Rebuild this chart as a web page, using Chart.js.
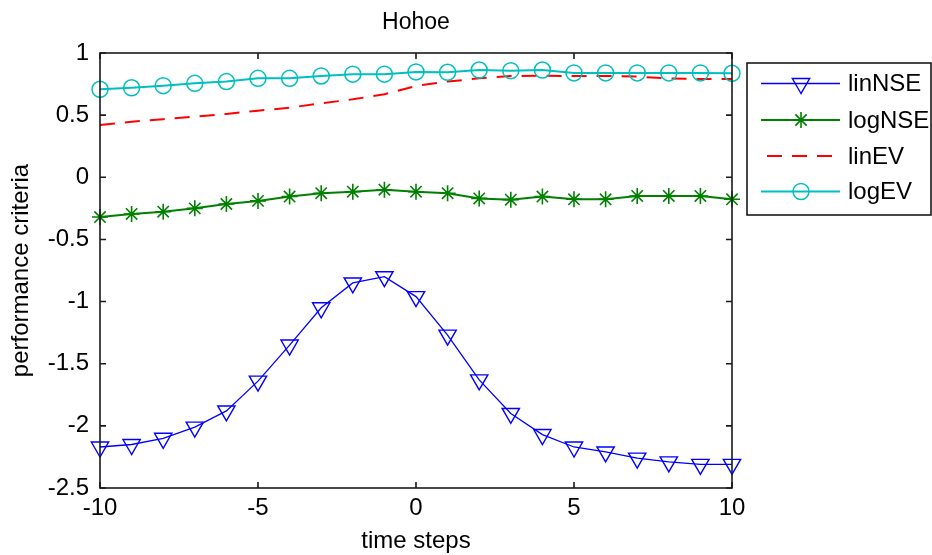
<!DOCTYPE html>
<html><head><meta charset="utf-8">
<script src="https://cdn.jsdelivr.net/npm/chart.js@4/dist/chart.umd.min.js"></script>
<style>html,body{margin:0;padding:0;background:#fff}#wrap{width:932px;height:555px}</style>
</head><body><div id="wrap"><canvas id="c" width="932" height="555"></canvas></div>
<script>
const chartTitle = 'Hohoe';
const xAxisTitle = 'time steps';
const yAxisTitle = 'performance criteria';
const timeSteps = [-10,-9,-8,-7,-6,-5,-4,-3,-2,-1,0,1,2,3,4,5,6,7,8,9,10];
const linNSE = [-2.17,-2.15,-2.10,-2.01,-1.88,-1.64,-1.35,-1.05,-0.85,-0.80,-0.96,-1.27,-1.63,-1.90,-2.07,-2.17,-2.21,-2.26,-2.29,-2.31,-2.31];
const logNSE = [-0.32,-0.295,-0.277,-0.25,-0.215,-0.19,-0.155,-0.128,-0.116,-0.10,-0.116,-0.128,-0.17,-0.18,-0.155,-0.177,-0.177,-0.15,-0.15,-0.15,-0.177];
const linEV = [0.42,0.447,0.467,0.488,0.51,0.536,0.56,0.595,0.627,0.668,0.735,0.77,0.796,0.815,0.817,0.815,0.815,0.81,0.796,0.79,0.79];
const logEV = [0.708,0.72,0.737,0.756,0.77,0.796,0.796,0.815,0.83,0.83,0.848,0.845,0.863,0.858,0.863,0.84,0.84,0.84,0.84,0.84,0.837];
const seriesNames = ['linNSE','logNSE','linEV','logEV'];
const xTickValues = [-10,-5,0,5,10];
const xTickLabels = ['-10','-5','0','5','10'];
const yTickValues = [-2.5,-2,-1.5,-1,-0.5,0,0.5,1];
const yTickLabels = ['-2.5','-2','-1.5','-1','-0.5','0','0.5','1'];

const FONT = '"Liberation Sans", Arial, Helvetica, sans-serif';
const pts = arr => timeSteps.map((x, i) => ({x: x, y: arr[i]}));

const styles = [
  {color:'#0000ff', width:1.3, dash:[], marker:'triangle', rot:180, r:10, bw:1.4},
  {color:'#008000', width:2, dash:[], marker:'star', rot:0, r:8, bw:1.6},
  {color:'#ff0000', width:2, dash:[15,10], marker:false, rot:0, r:0, bw:0},
  {color:'#00bfbf', width:2, dash:[], marker:'circle', rot:0, r:8, bw:1.5}
];
const seriesData = [linNSE, logNSE, linEV, logEV];

const datasets = seriesData.map((arr, i) => {
  const s = styles[i];
  return {
    label: seriesNames[i],
    data: pts(arr),
    borderColor: s.color,
    backgroundColor: 'rgba(0,0,0,0)',
    borderWidth: s.width,
    borderDash: s.dash,
    pointStyle: s.marker || 'circle',
    pointRotation: s.rot,
    pointRadius: s.marker ? s.r : 0,
    pointHoverRadius: s.marker ? s.r : 0,
    pointBorderColor: s.color,
    pointBackgroundColor: 'rgba(0,0,0,0)',
    pointBorderWidth: s.bw,
    tension: 0,
    clip: false,
    order: 3 - i
  };
});

function drawMarker(ctx, s, x, y) {
  if (!s.marker) return;
  ctx.save();
  ctx.strokeStyle = s.color; ctx.lineWidth = s.bw; ctx.setLineDash([]);
  ctx.beginPath();
  if (s.marker === 'circle') {
    ctx.arc(x, y, s.r, 0, Math.PI * 2);
  } else if (s.marker === 'triangle') {
    let rad = s.rot * Math.PI / 180;
    ctx.moveTo(x + Math.sin(rad) * s.r, y - Math.cos(rad) * s.r);
    rad += 2 * Math.PI / 3;
    ctx.lineTo(x + Math.sin(rad) * s.r, y - Math.cos(rad) * s.r);
    rad += 2 * Math.PI / 3;
    ctx.lineTo(x + Math.sin(rad) * s.r, y - Math.cos(rad) * s.r);
    ctx.closePath();
  } else if (s.marker === 'star') {
    const r = s.r, d = r * Math.SQRT1_2;
    ctx.moveTo(x - r, y); ctx.lineTo(x + r, y);
    ctx.moveTo(x, y - r); ctx.lineTo(x, y + r);
    ctx.moveTo(x - d, y - d); ctx.lineTo(x + d, y + d);
    ctx.moveTo(x - d, y + d); ctx.lineTo(x + d, y - d);
  }
  ctx.stroke();
  ctx.restore();
}

const framePlugin = {
  id: 'frame',
  afterDatasetsDraw(chart) {
    const {ctx, chartArea: a, scales} = chart;
    const xs = scales.x, ys = scales.y;
    ctx.save();
    ctx.strokeStyle = '#1a1a1a';
    ctx.lineWidth = 1.6;
    ctx.setLineDash([]);
    ctx.strokeRect(a.left, a.top, a.right - a.left, a.bottom - a.top);
    const tl = 6;
    ctx.beginPath();
    xTickValues.forEach(v => {
      const px = xs.getPixelForValue(v);
      ctx.moveTo(px, a.bottom); ctx.lineTo(px, a.bottom - tl);
      ctx.moveTo(px, a.top); ctx.lineTo(px, a.top + tl);
    });
    yTickValues.forEach(v => {
      const py = ys.getPixelForValue(v);
      ctx.moveTo(a.left, py); ctx.lineTo(a.left + tl, py);
      ctx.moveTo(a.right, py); ctx.lineTo(a.right - tl, py);
    });
    ctx.stroke();
    ctx.restore();
  },
  afterDraw(chart) {
    const ctx = chart.ctx;
    const box = {l: 747, t: 63, r: 931, b: 215};
    ctx.save();
    ctx.fillStyle = '#ffffff';
    ctx.fillRect(box.l, box.t, box.r - box.l, box.b - box.t);
    ctx.strokeStyle = '#1a1a1a';
    ctx.lineWidth = 1.6;
    ctx.strokeRect(box.l, box.t, box.r - box.l, box.b - box.t);
    const rows = [83.5, 120, 156, 191.5];
    ctx.font = '24px ' + FONT;
    ctx.textBaseline = 'middle';
    ctx.textAlign = 'left';
    seriesNames.forEach((name, i) => {
      const s = styles[i], y = rows[i];
      ctx.save();
      ctx.strokeStyle = s.color; ctx.lineWidth = s.width;
      ctx.setLineDash(s.dash);
      ctx.beginPath();
      if (s.dash.length) { ctx.moveTo(767, y); ctx.lineTo(840, y); }
      else { ctx.moveTo(761, y); ctx.lineTo(840, y); }
      ctx.stroke();
      ctx.restore();
      drawMarker(ctx, s, 801, y);
      ctx.fillStyle = '#000';
      ctx.fillText(name, 848, y + 1);
    });
    ctx.restore();
  }
};

new Chart(document.getElementById('c'), {
  type: 'line',
  data: { datasets: datasets },
  plugins: [framePlugin],
  options: {
    responsive: false,
    devicePixelRatio: 1,
    animation: false,
    events: [],
    layout: { padding: { left: 0, right: 200, top: 0, bottom: 0 } },
    plugins: {
      legend: { display: false },
      tooltip: { enabled: false },
      title: {
        display: true, text: chartTitle, fullSize: false, color: '#000',
        font: { family: FONT, size: 23, weight: 'normal', lineHeight: 1.2 },
        padding: { top: 9, bottom: 16.4 }
      }
    },
    scales: {
      x: {
        type: 'linear', min: -10, max: 10,
        afterFit(scale) { scale.height = 67; },
        afterBuildTicks(scale) { scale.ticks = xTickValues.map(v => ({value: v})); },
        grid: { display: false, drawTicks: false },
        border: { display: false },
        ticks: {
          color: '#000', padding: 8.5, maxRotation: 0, autoSkip: false,
          font: { family: FONT, size: 24, lineHeight: 1 },
          callback: (v) => { const i = xTickValues.indexOf(v); return i >= 0 ? xTickLabels[i] : ''; }
        },
        title: {
          display: true, text: xAxisTitle, color: '#000',
          font: { family: FONT, size: 24, lineHeight: 1 },
          padding: { top: 0, bottom: 2 }
        }
      },
      y: {
        type: 'linear', min: -2.5, max: 1,
        afterFit(scale) { scale.width = 100; },
        afterBuildTicks(scale) { scale.ticks = yTickValues.map(v => ({value: v})); },
        grid: { display: false, drawTicks: false },
        border: { display: false },
        ticks: {
          color: '#000', padding: 11, autoSkip: false,
          font: { family: FONT, size: 24, lineHeight: 1 },
          callback: (v) => { const i = yTickValues.indexOf(v); return i >= 0 ? yTickLabels[i] : ''; }
        },
        title: {
          display: true, text: yAxisTitle, color: '#000',
          font: { family: FONT, size: 24, lineHeight: 1 },
          padding: { top: 9, bottom: 0 }
        }
      }
    }
  }
});
</script></body></html>
